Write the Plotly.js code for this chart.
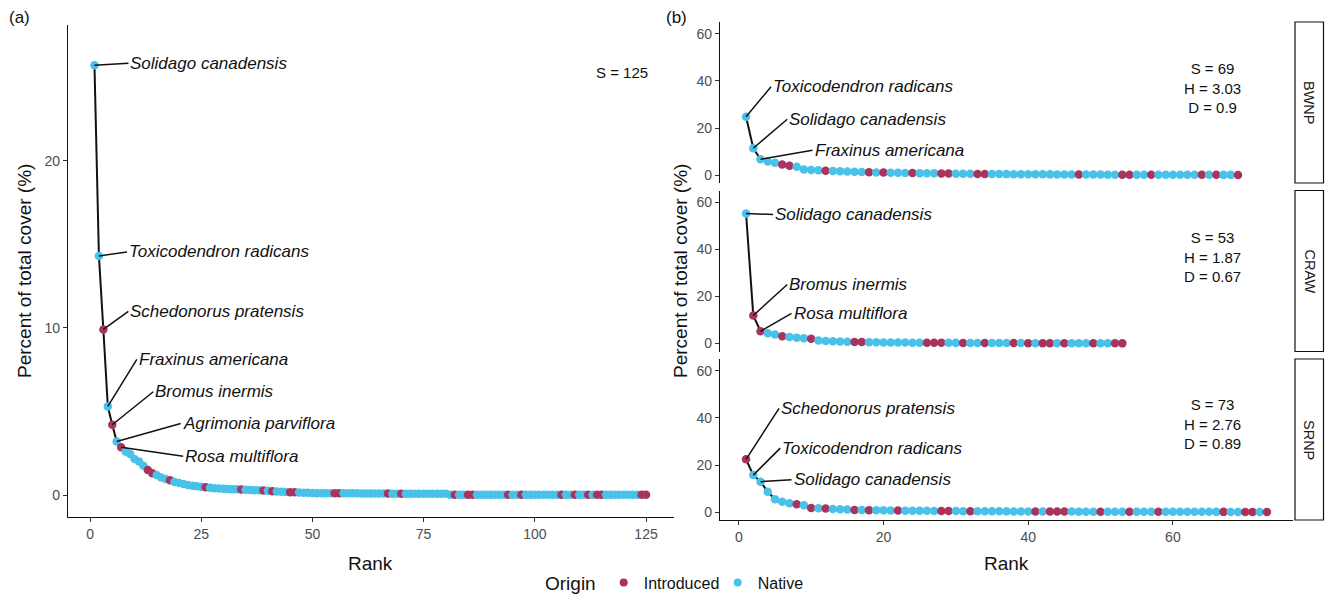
<!DOCTYPE html>
<html><head><meta charset="utf-8">
<script src="https://cdn.plot.ly/plotly-3.0.1.min.js"></script>
<style>html,body{margin:0;padding:0;background:#fff;overflow:hidden}#chart{width:1325px;height:595px}</style>
</head><body><div id="chart"></div>
<script>
// ---------------- DATA ----------------
// (a) all sites pooled: percent of total cover by rank
const allCover = [
  25.7, 14.3, 9.9, 5.3, 4.2, 3.2, 2.85, 2.6, 2.45, 2.15,
  2.0, 1.75, 1.5, 1.3, 1.2, 1.05, 0.95, 0.88, 0.78, 0.72,
  0.66, 0.6, 0.56, 0.53, 0.5, 0.46, 0.43, 0.41, 0.39, 0.37,
  0.36, 0.35, 0.34, 0.33, 0.31, 0.3, 0.29, 0.28, 0.27, 0.25,
  0.23, 0.21, 0.2, 0.18, 0.17, 0.16, 0.15, 0.14, 0.13, 0.12,
  0.11, 0.11, 0.11, 0.11, 0.1, 0.1, 0.1, 0.1, 0.1, 0.1,
  0.09, 0.09, 0.09, 0.09, 0.09, 0.09, 0.09, 0.08, 0.08, 0.08,
  0.08, 0.08, 0.08, 0.08, 0.08, 0.08, 0.08, 0.08, 0.08, 0.08,
  0.02, 0.02, 0.02, 0.02, 0.02, 0.02, 0.02, 0.02, 0.02, 0.02,
  0.02, 0.02, 0.02, 0.02, 0.02, 0.02, 0.02, 0.02, 0.02, 0.02,
  0.02, 0.02, 0.02, 0.02, 0.02, 0.02, 0.02, 0.02, 0.02, 0.02,
  0.01, 0.01, 0.01, 0.01, 0.01, 0.01, 0.01, 0.01, 0.01, 0.01,
  0.01, 0.01, 0.01, 0.01, 0.01
];
const allOrigin = [
  'N','N','I','N','I','N','I','N','N','N',
  'N','N','I','I','N','N','N','I','N','N',
  'N','N','N','N','N','I','N','N','N','N',
  'N','N','N','I','N','N','N','N','I','N',
  'I','N','N','N','I','I','N','N','N','N',
  'N','N','N','N','I','I','N','N','N','N',
  'N','N','N','N','N','N','I','N','N','I',
  'N','N','N','N','N','N','N','N','N','N',
  'N','I','N','N','I','I','N','N','N','N',
  'N','N','N','I','N','N','I','N','N','N',
  'N','N','N','N','N','I','N','N','I','N',
  'N','I','N','I','I','N','N','N','N','N',
  'N','N','N','I','I'
];
// (b) per site
const siteNames = ['BWNP', 'CRAW', 'SRNP'];
const bwnpCover = [
  24.8, 11.4, 6.7, 5.8, 5.2, 4.5, 3.9, 3.5, 2.3, 2.1,
  2.0, 1.8, 1.7, 1.6, 1.5, 1.4, 1.3, 1.2, 1.1, 1.05,
  1.0, 0.95, 0.9, 0.85, 0.8, 0.75, 0.7, 0.65, 0.6, 0.55,
  0.52, 0.5, 0.47, 0.45, 0.42, 0.4, 0.38, 0.36, 0.34, 0.32,
  0.3, 0.28, 0.27, 0.26, 0.24, 0.22, 0.2, 0.19, 0.18, 0.17,
  0.16, 0.15, 0.14, 0.14, 0.13, 0.12, 0.12, 0.11, 0.1, 0.1,
  0.09, 0.09, 0.08, 0.08, 0.07, 0.07, 0.06, 0.06, 0.05
];
const bwnpOrigin = [
  'N','N','N','N','N','I','I','N','N','N',
  'N','I','N','N','N','N','N','I','N','I',
  'N','N','N','I','N','N','N','I','I','N',
  'N','N','I','I','N','N','N','N','N','N',
  'N','N','N','N','N','N','I','N','N','N',
  'N','N','I','I','N','N','I','N','N','N',
  'N','N','N','I','N','I','N','N','I'
];
const crawCover = [
  55.3, 11.9, 5.2, 4.4, 3.8, 3.1, 2.8, 2.5, 2.2, 2.0,
  1.3, 1.1, 0.95, 0.85, 0.75, 0.65, 0.6, 0.55, 0.5, 0.47,
  0.44, 0.41, 0.39, 0.37, 0.35, 0.33, 0.31, 0.3, 0.28, 0.27,
  0.25, 0.24, 0.23, 0.22, 0.21, 0.2, 0.19, 0.18, 0.17, 0.16,
  0.15, 0.14, 0.13, 0.12, 0.11, 0.1, 0.1, 0.09, 0.09, 0.08,
  0.08, 0.07, 0.06
];
const crawOrigin = [
  'N','I','I','N','N','I','N','N','N','I',
  'N','N','N','N','N','I','I','N','N','N',
  'N','N','N','N','N','I','I','I','N','N',
  'I','N','N','I','N','N','N','I','N','I',
  'N','I','I','N','I','N','N','N','I','N',
  'N','I','I'
];
const srnpCover = [
  22.4, 15.7, 12.9, 8.6, 5.4, 4.4, 3.7, 3.3, 2.9, 1.7,
  1.6, 1.5, 1.3, 1.2, 1.05, 0.9, 0.85, 0.8, 0.75, 0.7,
  0.66, 0.62, 0.58, 0.55, 0.52, 0.49, 0.46, 0.43, 0.41, 0.39,
  0.37, 0.35, 0.33, 0.31, 0.3, 0.28, 0.27, 0.26, 0.24, 0.23,
  0.22, 0.21, 0.2, 0.19, 0.18, 0.17, 0.16, 0.15, 0.14, 0.13,
  0.13, 0.12, 0.12, 0.11, 0.11, 0.1, 0.1, 0.09, 0.09, 0.08,
  0.08, 0.08, 0.07, 0.07, 0.07, 0.06, 0.06, 0.05, 0.05, 0.05,
  0.04, 0.04, 0.03
];
const srnpOrigin = [
  'I','N','N','N','N','N','N','I','N','I',
  'N','I','N','N','N','I','N','I','N','N',
  'N','I','N','N','N','N','N','I','I','N',
  'N','I','N','N','N','N','N','N','N','N',
  'I','N','I','I','I','N','N','N','N','I',
  'N','N','N','I','N','N','N','I','N','N',
  'N','N','N','N','N','N','I','N','N','I',
  'I','N','I'
];
// labelled species (rank -> name)
const allLabelRanks = [1, 2, 3, 4, 5, 6, 7];
const allLabelNames = ['Solidago canadensis', 'Toxicodendron radicans', 'Schedonorus pratensis',
  'Fraxinus americana', 'Bromus inermis', 'Agrimonia parviflora', 'Rosa multiflora'];
const bwnpLabelRanks = [1, 2, 3];
const bwnpLabelNames = ['Toxicodendron radicans', 'Solidago canadensis', 'Fraxinus americana'];
const crawLabelRanks = [1, 2, 3];
const crawLabelNames = ['Solidago canadensis', 'Bromus inermis', 'Rosa multiflora'];
const srnpLabelRanks = [1, 2, 3];
const srnpLabelNames = ['Schedonorus pratensis', 'Toxicodendron radicans', 'Solidago canadensis'];
// diversity statistics
const allStats = ['S = 125'];
const bwnpStats = ['S = 69', 'H = 3.03', 'D = 0.9'];
const crawStats = ['S = 53', 'H = 1.87', 'D = 0.67'];
const srnpStats = ['S = 73', 'H = 2.76', 'D = 0.89'];
const originNames = {I: 'Introduced', N: 'Native'};

// ---------------- STYLE ----------------
const W = 1325, H = 595;
const FONT = 'Liberation Sans, Arial, Helvetica, sans-serif';
const COL = {I: '#A8345E', N: '#48C2E8'};
const px = x => x / W;
const py = y => 1 - y / H;

const traces = [];
function addPanel(cover, origin, xa, ya) {
  const ranks = cover.map((_, i) => i + 1);
  traces.push({x: ranks, y: cover, xaxis: xa, yaxis: ya, type: 'scatter', mode: 'lines',
    line: {color: '#111', width: 2}, showlegend: false, hoverinfo: 'skip'});
  traces.push({x: ranks, y: cover, xaxis: xa, yaxis: ya, type: 'scatter', mode: 'markers',
    marker: {color: origin.map(o => COL[o]), size: 8.5, line: {width: 0}},
    text: origin.map(o => originNames[o]), showlegend: false});
}
addPanel(allCover, allOrigin, 'x', 'y');
addPanel(bwnpCover, bwnpOrigin, 'x2', 'y2');
addPanel(crawCover, crawOrigin, 'x2', 'y3');
addPanel(srnpCover, srnpOrigin, 'x2', 'y4');
['I', 'N'].forEach(k => traces.push({x: [null], y: [null], type: 'scatter', mode: 'markers',
  name: originNames[k], marker: {color: COL[k], size: 8}, showlegend: true}));

const annotations = [];
function addLabels(ranks, names, cover, xa, ya, offsets) {
  ranks.forEach((r, i) => {
    annotations.push({x: r, y: cover[r - 1], xref: xa, yref: ya, text: '<i>' + names[i] + '</i>',
      showarrow: true, arrowhead: 0, arrowwidth: 1.5, arrowcolor: '#111', standoff: 0,
      ax: offsets[i][0], ay: offsets[i][1], xanchor: 'left', yanchor: 'middle',
      font: {family: FONT, size: 17, color: '#111'}});
  });
}
addLabels(allLabelRanks, allLabelNames, allCover, 'x', 'y',
  [[34, -2], [28, -4], [25, -18], [29, -47], [41, -33], [64, -18], [62, 9]]);
addLabels(bwnpLabelRanks, bwnpLabelNames, bwnpCover, 'x2', 'y2', [[25, -30], [34, -29], [52, -9]]);
addLabels(crawLabelRanks, crawLabelNames, crawCover, 'x2', 'y3', [[27, 1], [34, -31], [31, -18]]);
addLabels(srnpLabelRanks, srnpLabelNames, srnpCover, 'x2', 'y4', [[33, -51], [27, -27], [31, -2]]);

function txt(x, y, text, size, extra) {
  annotations.push(Object.assign({x: px(x), y: py(y), xref: 'paper', yref: 'paper', text: text,
    xanchor: 'center', yanchor: 'middle', showarrow: false,
    font: {family: FONT, size: size, color: '#111'}}, extra || {}));
}
txt(622, 72, allStats.join('<br>'), 15);
txt(1212, 88, bwnpStats.join('<br>'), 15);
txt(1212, 257, crawStats.join('<br>'), 15);
txt(1212, 424, srnpStats.join('<br>'), 15);
txt(19, 17, '(a)', 17);
txt(677, 17, '(b)', 17);
txt(25, 271, 'Percent of total cover (%)', 19, {textangle: -90});
txt(681, 271, 'Percent of total cover (%)', 19, {textangle: -90});
txt(370, 563, 'Rank', 19);
txt(1006, 563, 'Rank', 19);

const panelsB = [[22, 183], [190.5, 351.5], [359, 520]];
const shapes = [];
panelsB.forEach((p, i) => {
  shapes.push({type: 'rect', xref: 'paper', yref: 'paper', x0: px(1295), x1: px(1323.5),
    y0: py(p[1]), y1: py(p[0]), line: {color: '#111', width: 1.2}, fillcolor: 'white'});
  txt(1309.5, (p[0] + p[1]) / 2, siteNames[i], 14.5, {textangle: 90, font: {family: FONT, size: 14.5, color: '#1a1a1a'}});
});

const axBase = {showline: true, linecolor: '#111', linewidth: 1.1, ticks: 'outside', ticklen: 4,
  tickcolor: '#333', tickwidth: 1, showgrid: false, zeroline: false, fixedrange: true, automargin: false,
  tickfont: {family: FONT, size: 14, color: '#4d4d4d'}};

const layout = {
  width: W, height: H, margin: {l: 0, r: 0, t: 0, b: 0, pad: 0, autoexpand: false},
  paper_bgcolor: 'white', plot_bgcolor: 'rgba(0,0,0,0)',
  font: {family: FONT},
  xaxis: Object.assign({}, axBase, {domain: [px(68), px(673.6)], range: [-4.95, 131.2],
    tickvals: [0, 25, 50, 75, 100, 125], anchor: 'y'}),
  yaxis: Object.assign({}, axBase, {domain: [py(517), py(25)], range: [-1.316, 28.11],
    tickvals: [0, 10, 20], anchor: 'x'}),
  xaxis2: Object.assign({}, axBase, {domain: [px(720), px(1293)], range: [-2.6, 76.6],
    tickvals: [0, 20, 40, 60], anchor: 'y4'}),
  yaxis2: Object.assign({}, axBase, {domain: [py(panelsB[0][1]), py(panelsB[0][0])], range: [-3.4, 65.1],
    tickvals: [0, 20, 40, 60], anchor: 'x2'}),
  yaxis3: Object.assign({}, axBase, {domain: [py(panelsB[1][1]), py(panelsB[1][0])], range: [-3.4, 65.1],
    tickvals: [0, 20, 40, 60], anchor: 'x2'}),
  yaxis4: Object.assign({}, axBase, {domain: [py(panelsB[2][1]), py(panelsB[2][0])], range: [-3.4, 65.1],
    tickvals: [0, 20, 40, 60], anchor: 'x2'}),
  showlegend: true,
  legend: {orientation: 'h', x: px(543), xanchor: 'left', y: py(583), yanchor: 'middle', entrywidth: 69,
    title: {text: 'Origin', font: {family: FONT, size: 19, color: '#111'}, side: 'left'},
    font: {family: FONT, size: 16, color: '#111'}, itemsizing: 'trace', bgcolor: 'rgba(0,0,0,0)'},
  annotations: annotations, shapes: shapes
};
Plotly.newPlot('chart', traces, layout, {displayModeBar: false, staticPlot: true});
</script>
</body></html>
